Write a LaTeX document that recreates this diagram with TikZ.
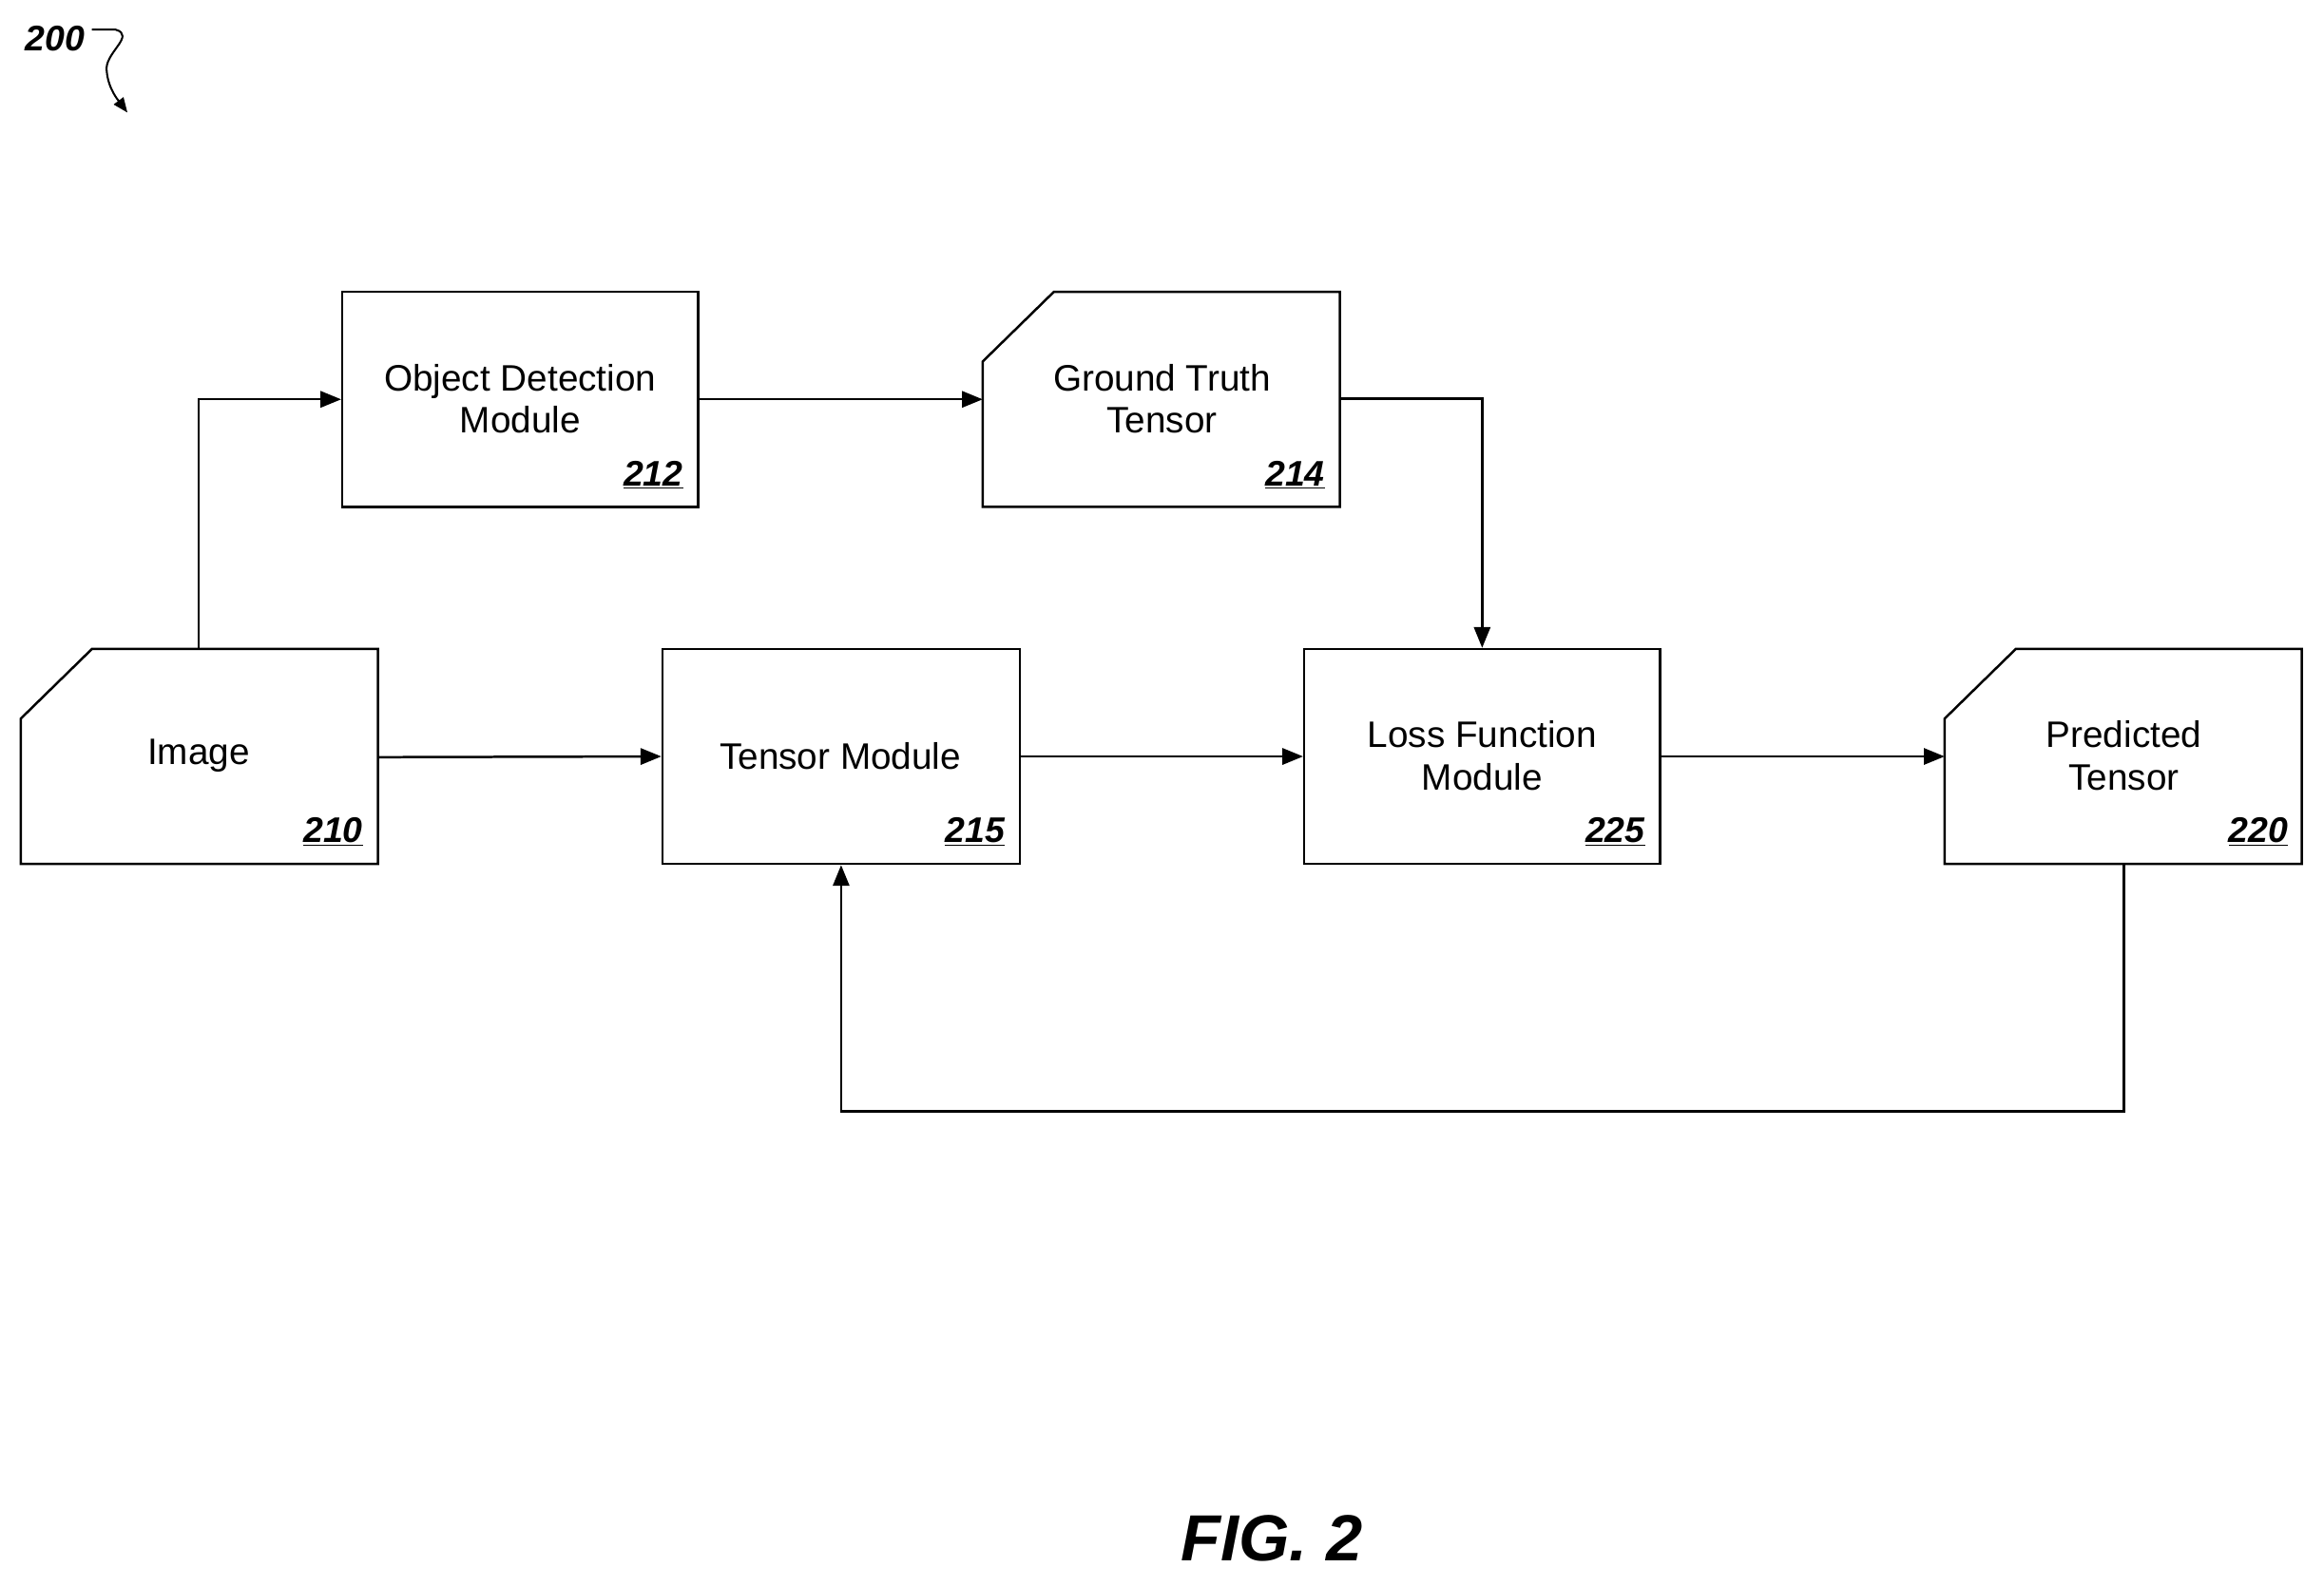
\documentclass[tikz,border=0pt]{standalone}
\usepackage{fontspec}
\setmainfont{Liberation Sans}
\usetikzlibrary{arrows.meta}
\begin{document}
\begin{tikzpicture}[x=1pt,y=-1pt,
  box/.style={draw,line width=1.6pt},
  lbl/.style={font=\fontsize{27}{31}\selectfont,align=center,scale=0.92},
  num/.style={font=\fontsize{24}{28}\selectfont\bfseries\itshape,anchor=south east,inner sep=0pt},
  arr/.style={line width=1.6pt,-{Triangle[length=14pt,width=11pt]}}]
\useasboundingbox (0,0) rectangle (1568,1070);
% documents with cut corners
\newcommand{\docshape}[3]{\draw[box] (#1,#2+47) -- (#1+48,#2) -- (#1+241,#2) -- (#1+241,#2+145) -- (#1,#2+145) -- cycle; \coordinate (#3) at (#1+120.5,#2+72.5);}
\docshape{14}{438}{img}
\docshape{663}{197}{gt}
\docshape{1312}{438}{pt}
\node[box,minimum width=240pt,minimum height=145pt,inner sep=0pt] (od) at (351,269.5) {};
\node[box,minimum width=241pt,minimum height=145pt,inner sep=0pt] (tm) at (567.5,510.5) {};
\node[box,minimum width=240pt,minimum height=145pt,inner sep=0pt] (lf) at (1000,510.5) {};
\node[lbl] (timg) at (134,510) {Image};
\node[lbl] (tod) at (351,269) {Object Detection\\Module};
\node[lbl] (tgt) at (784,269) {Ground Truth\\Tensor};
\node[lbl] (ttm) at (567,510) {Tensor Module};
\node[lbl] (tlf) at (1000,510) {Loss Function\\Module};
\node[lbl] (tpt) at (1433,510) {Predicted\\Tensor};
\node[num] (n210) at (245,571) {\underline{210}};
\node[num] (n212) at (461,330) {\underline{212}};
\node[num] (n214) at (894,330) {\underline{214}};
\node[num] (n215) at (678,571) {\underline{215}};
\node[num] (n225) at (1110,571) {\underline{225}};
\node[num] (n220) at (1544,571) {\underline{220}};
% connectors
\coordinate (imgtop) at (134,438);
\coordinate (imgr) at (255,511);
\coordinate (gtr) at (904,269);
\coordinate (ptb) at (1433,583);
\draw[arr] (imgtop) |- (od.west);
\draw[arr] (od.east) -- (od.east -| 663,0);
\draw[arr] (gtr) -| (lf.north);
\draw[arr] (imgr) -- (tm.west);
\draw[arr] (tm.east) -- (lf.west);
\draw[arr] (lf.east) -- (1312,510.5);
\draw[arr] (ptb) -- (1433,750) -| (tm.south);
% label 200
\node[font=\fontsize{24}{28}\selectfont\bfseries\itshape,inner sep=0pt] (n200) at (37,26) {200};
\coordinate (sq) at (62,20);
\draw[line width=1.3pt,-{Triangle[length=10pt,width=8pt]}] (sq) -- (78,20) .. controls (92,24) and (70,36) .. (72,48) .. controls (73,60) and (80,68) .. (86,76);
\node[font=\fontsize{44}{50}\selectfont\bfseries\itshape] (fig) at (858,1038) {FIG. 2};
\end{tikzpicture}
\end{document}
